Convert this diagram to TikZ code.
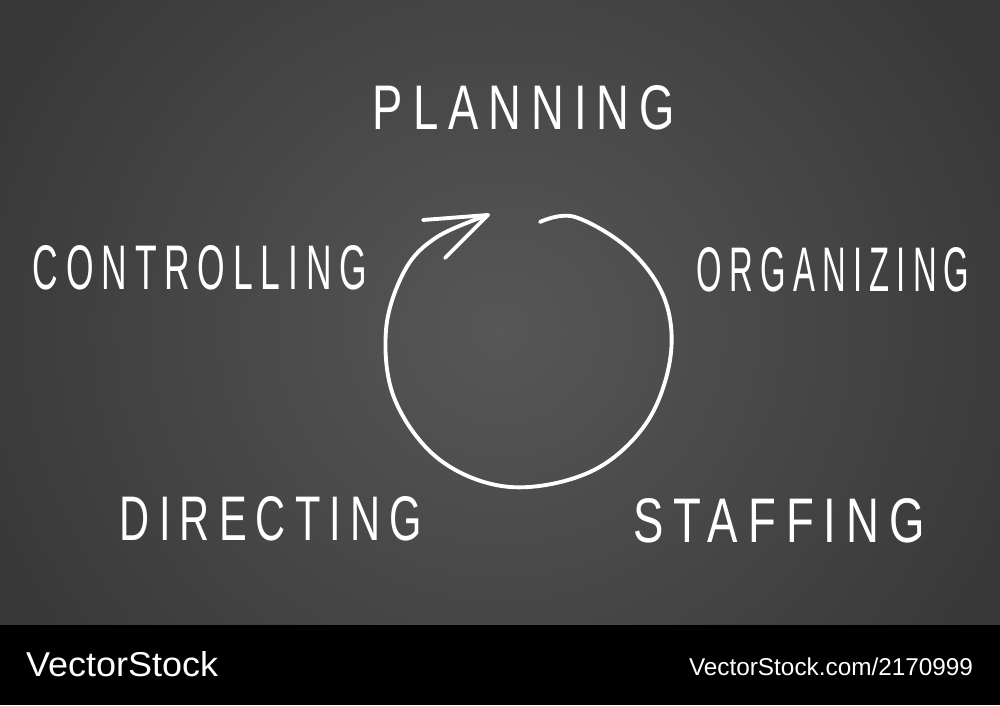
\documentclass[tikz,border=0pt]{standalone}
\usepackage{graphicx}
\usepackage{fontspec}
\setmainfont{Liberation Sans}
\newfontfamily\chalkfont{Liberation Sans}[LetterSpace=22]
\usepackage{tikz}
\usetikzlibrary{positioning}
\usepackage{xcolor}

\definecolor{boardmid}{HTML}{575757}
\definecolor{boardedge}{HTML}{383838}

\tikzset{
	chalk/.style={white, line width=1.1pt, line cap=round, line join=round},
	chalktext/.style={text=white, inner sep=0pt}
}
% word in chalk, stretched to the width #1
\newcommand{\chalkword}[2]{\resizebox{#1}{0.44cm}{\chalkfont #2}}

\begin{document}
\begin{tikzpicture}
										\useasboundingbox (0, 0) rectangle (10, 7.05);
										% board and bar
										\begin{scope}
											\clip (0, 0.8) rectangle (10, 7.05);
											\shade [inner color=boardmid, outer color=boardedge] (-0.6, -1.6) rectangle (10.6, 9.1);
										\end{scope}
										\fill [black] (0, 0) rectangle (10, 0.8);
										% the words
										\node [chalktext] (planning) at (5.24, 5.97) {\chalkword{3.02cm}{PLANNING}};
										\node [chalktext] (controlling) at (2.00, 4.37) {\chalkword{3.34cm}{CONTROLLING}};
										\node [chalktext] (organizing) at (8.33, 4.35) {\chalkword{2.73cm}{ORGANIZING}};
										\node [chalktext] (directing) at (2.71, 1.86) {\chalkword{3.02cm}{DIRECTING}};
										\node [chalktext] (staffing) at (7.79, 1.84) {\chalkword{2.92cm}{STAFFING}};
										% the cycle
										\coordinate (tip) at (4.88, 4.90);
										\draw [chalk] plot [smooth, tension=0.6] coordinates {(5.40, 4.83) (5.75, 4.88) (6.30, 4.55) (6.65, 4.05) (6.70, 3.45) (6.45, 2.80) (5.90, 2.33) (5.10, 2.18) (4.40, 2.45) (3.95, 3.05) (3.86, 3.75) (4.05, 4.35) (4.37, 4.68) (tip)};
										\draw [chalk] (4.23, 4.85)--(tip)--(4.45, 4.47);
										% watermark
										\node [chalktext] (stock) at (1.22, 0.405) {\resizebox{1.92cm}{0.25cm}{VectorStock}};
										\node [chalktext] (stockurl) at (8.31, 0.38) {\resizebox{2.84cm}{!}{VectorStock.com/2170999}};
									\end{tikzpicture}
\end{document}
